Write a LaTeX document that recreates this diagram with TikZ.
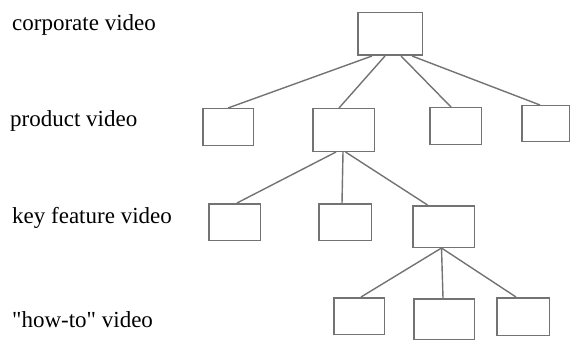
\documentclass[tikz,border=0pt]{standalone}
\usepackage{fontspec}
\setmainfont{Liberation Serif}
\begin{document}
\begin{tikzpicture}[x=1pt,y=-1pt,
  box/.style={draw=black!55, line width=1.5pt, fill=white, inner sep=0pt},
  link/.style={draw=black!55, line width=1.4pt},
  lbl/.style={anchor=base west, inner sep=0pt, font=\fontsize{23}{27}\selectfont, text=black}]
\useasboundingbox (0,0) rectangle (572,342);
% level labels
\node[lbl] (l1) at (12,30.7) {corporate video};
\node[lbl] (l2) at (10,126) {product video};
\node[lbl] (l3) at (12,223) {key feature video};
\node[lbl] (l4) at (12,327) {\textquotedbl how-to\textquotedbl\ video};
% boxes
\node[box, minimum width=64.5pt, minimum height=42.5pt] (top) at (390,34) {};
\node[box, minimum width=50.5pt, minimum height=36.5pt] (a) at (228,127) {};
\node[box, minimum width=61.5pt, minimum height=42.5pt] (b) at (343.5,130) {};
\node[box, minimum width=51.5pt, minimum height=36.5pt] (c) at (455.5,126) {};
\node[box, minimum width=47.5pt, minimum height=35.5pt] (d) at (545.5,123.5) {};
\node[box, minimum width=51.5pt, minimum height=36.5pt] (e) at (234.5,222) {};
\node[box, minimum width=52.5pt, minimum height=36.5pt] (f) at (345,222) {};
\node[box, minimum width=61.5pt, minimum height=41.5pt] (g) at (443.5,226.5) {};
\node[box, minimum width=50.5pt, minimum height=36.5pt] (h) at (359,316) {};
\node[box, minimum width=60.5pt, minimum height=40.5pt] (i) at (444,319) {};
\node[box, minimum width=52.5pt, minimum height=37.5pt] (j) at (523,316.5) {};
% connectors
\draw[link] ([xshift=-18pt]top.south) -- (a.north);
\draw[link] ([xshift=-5pt]top.south) -- ([xshift=-4.5pt]b.north);
\draw[link] ([xshift=11pt]top.south) -- ([xshift=-4.5pt]c.north);
\draw[link] ([xshift=22pt]top.south) -- ([xshift=-5.5pt]d.north);
\draw[link] ([xshift=-7.5pt]b.south) -- ([xshift=2.5pt]e.north);
\draw[link] ([xshift=-0.5pt]b.south) -- ([xshift=-3pt]f.north);
\draw[link] ([xshift=2pt]b.south) -- ([xshift=-16pt]g.north);
\draw[link] ([xshift=-2pt]g.south) -- ([xshift=2pt]h.north);
\draw[link] ([xshift=-2pt]g.south) -- ([xshift=-1pt]i.north);
\draw[link] ([xshift=-2pt]g.south) -- ([xshift=-7pt]j.north);
\end{tikzpicture}
\end{document}
